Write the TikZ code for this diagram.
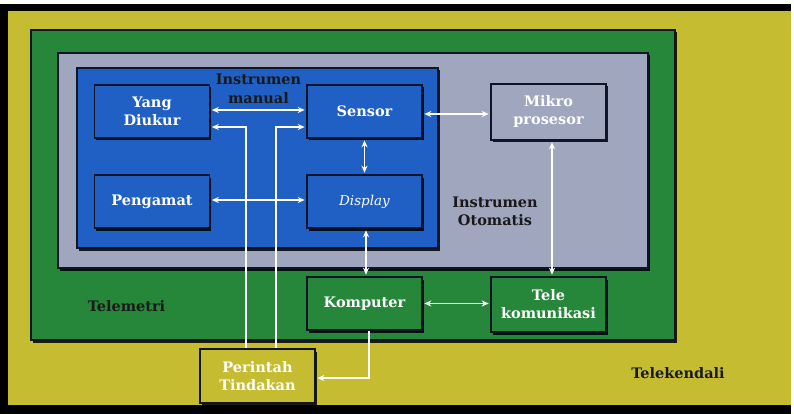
\documentclass[tikz,border=0pt]{standalone}
\usepackage{fontspec}
\setmainfont{DejaVu Serif}
\usetikzlibrary{arrows.meta,shadows}
\definecolor{ylw}{RGB}{198,188,50}
\definecolor{grn}{RGB}{38,135,58}
\definecolor{gry}{RGB}{160,166,190}
\definecolor{blu}{RGB}{32,96,196}
\definecolor{edge}{RGB}{15,20,40}
\begin{document}
\begin{tikzpicture}[x=1pt,y=-1pt,
  >={Stealth[length=7pt,width=6pt]},
  frame/.style={draw=edge, line width=1.6pt, drop shadow={shadow xshift=1.5pt,shadow yshift=-2.5pt,fill=black,opacity=0.85}},
  box/.style={frame, minimum width=115pt, minimum height=53pt, inner sep=0pt, align=center, text=white, font=\bfseries\fontsize{14.5}{18}\selectfont},
  lbl/.style={align=center, text=black!90, font=\bfseries\fontsize{14.5}{18.5}\selectfont},
  arr/.style={draw=white, line width=1.2pt, shorten >=1.5pt, shorten <=1.5pt}]
\useasboundingbox (0,0) rectangle (794,414);
% outer frame
\fill[white] (0,0) rectangle (794,414);
\fill[black] (0,4) rectangle (791,414);
\fill[ylw] (8,11) rectangle (791,405);
% containers
\path[frame, fill=grn] (31,30) rectangle (675,340);
\path[frame, fill=gry] (58,53) rectangle (648,268);
\path[frame, fill=blu] (77,68) rectangle (438,248);
% boxes
\node[box, fill=blu] (yd) at (152,111.5) {Yang\\Diukur};
\node[box, fill=blu] (sen) at (364.5,111.5) {Sensor};
\node[box, fill=blu] (pg) at (152,201.5) {Pengamat};
\node[box, fill=blu, font=\mdseries\itshape\fontsize{13.5}{18}\selectfont] (dp) at (364.5,201.5) {Display};
\node[box, fill=gry, minimum height=56pt] (mik) at (548.5,112) {Mikro\\prosesor};
\node[box, fill=grn] (kom) at (364.5,303.5) {Komputer};
\node[box, fill=grn, minimum height=55pt] (tel) at (548.5,304.5) {Tele\\komunikasi};
\node[box, fill=ylw, minimum height=54pt] (pt) at (257.5,376) {Perintah\\Tindakan};
% labels
\node[lbl] (im) at (258.5,89) {Instrumen\\manual};
\node[lbl] (io) at (495,211.5) {Instrumen\\Otomatis};
\node[lbl] (tm) at (126.5,306) {Telemetri};
\node[lbl] (tk) at (678,373) {Telekendali};
% connectors
\coordinate (c1) at (246,127);
\coordinate (c2) at (276,127);
\draw[arr,<->] ([yshift=1.5pt]yd.east) -- ([yshift=1.5pt]sen.west);
\draw[arr,->,shorten <=0pt] (pt.north -| c1) |- (yd.east |- c1);
\draw[arr,->,shorten <=0pt] (pt.north -| c2) |- (sen.west |- c2);
\draw[arr,<->] ([yshift=1.5pt]pg.east) -- ([yshift=1.5pt]dp.west);
\draw[arr,<->] (sen.south) -- (dp.north);
\draw[arr,<->] ([yshift=-2.5pt]sen.east) -- ([yshift=-2.5pt]sen.east -| mik.west);
\draw[arr,<->] ([xshift=3.5pt]mik.south) -- ([xshift=3.5pt]tel.north);
\draw[arr,<->] ([xshift=1.5pt]dp.south) -- ([xshift=1.5pt]kom.north);
\draw[arr,<->] (kom.east) -- (kom.east -| tel.west);
\draw[arr,->,shorten <=0pt] ([xshift=4.5pt]kom.south) |- ([yshift=-2pt]pt.east);
\end{tikzpicture}
\end{document}
